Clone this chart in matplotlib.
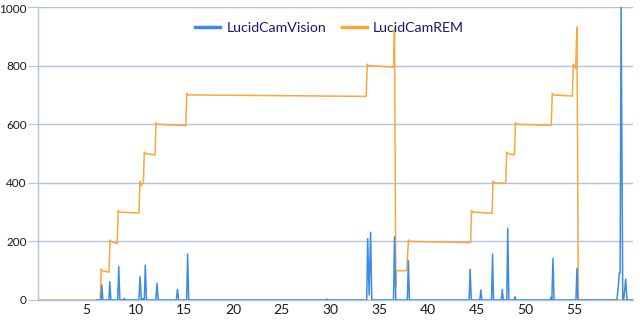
import matplotlib
matplotlib.use("Agg")
import matplotlib.pyplot as plt
import matplotlib.transforms as mtransforms

plt.rcParams['font.family'] = ['Lato', 'DejaVu Sans']

# LucidCamVision series (time, value)
vision_x = [6.0, 6.45, 6.54, 6.65, 7.26, 7.36, 7.47, 8.17, 8.28, 8.39, 8.75, 8.83, 8.92,
            10.35, 10.46, 10.6, 10.72, 10.9, 11.0, 11.12, 12.08, 12.2, 12.32, 14.18, 14.3,
            14.42, 15.24, 15.34, 15.45, 29.5, 29.6, 29.7, 33.7, 33.8, 33.95, 34.1, 34.22,
            36.45, 36.55, 36.68, 37.87, 37.97, 38.08, 44.2, 44.3, 44.42, 45.3, 45.4, 45.5,
            46.5, 46.6, 46.7, 47.5, 47.6, 47.7, 48.06, 48.16, 48.27, 48.8, 48.9, 49.0,
            52.5, 52.6, 52.68, 52.8, 52.9, 55.15, 55.25, 55.35, 59.35, 59.5, 59.6, 59.68,
            59.78, 59.95, 60.05, 60.25, 60.38, 61.0]
vision_y = [0, 0, 51, 0, 0, 62, 0, 0, 114, 0, 0, 5, 0,
            0, 80, 0, 5, 0, 119, 0, 0, 57, 0, 0, 36,
            0, 0, 157, 0, 0, 3, 0, 0, 210, 17, 231, 0,
            0, 215, 0, 0, 134, 0, 0, 105, 0, 0, 34, 0,
            0, 157, 0, 0, 36, 0, 0, 245, 0, 0, 11, 0,
            0, 9, 0, 142, 0, 0, 108, 0, 0, 50, 92, 92,
            1000, 0, 0, 71, 0, 0]

# LucidCamREM series (time, value)
rem_x = [0.0, 6.38, 6.48, 6.6, 7.28, 7.38, 7.48, 8.12, 8.22, 8.32, 10.35, 10.45, 10.55,
         10.8, 10.9, 11.0, 12.0, 12.1, 12.2, 15.15, 15.25, 15.35, 33.65, 33.75, 33.85,
         36.45, 36.55, 36.68, 36.75, 37.8, 37.98, 38.1, 44.35, 44.45, 44.55, 46.55, 46.65,
         46.75, 47.95, 48.05, 48.15, 48.85, 48.95, 49.05, 52.62, 52.72, 52.82, 54.78, 54.88,
         54.98, 55.12, 55.25, 55.4, 61.0]
rem_y = [0, 0, 105, 100, 95, 205, 200, 192, 305, 300, 297, 405, 390,
         400, 505, 500, 495, 605, 600, 595, 705, 700, 695, 805, 800,
         795, 930, 45, 100, 100, 205, 200, 196, 305, 300, 296, 405,
         400, 398, 505, 500, 495, 605, 600, 596, 705, 700, 696, 805,
         800, 790, 932, 0, 0]

x_ticks = [5, 10, 15, 20, 25, 30, 35, 40, 45, 50, 55]
y_ticks = [0, 200, 400, 600, 800, 1000]

blue = '#3d8be8'
orange = '#f9a83a'
grid_c = '#b0c4de'

fig = plt.figure(figsize=(6.4, 3.2), dpi=100)
ax = fig.add_axes([38/640, 1 - 300/320, 595/640, 293/320])

ax.plot(vision_x, vision_y, color=blue, lw=1.1, label='LucidCamVision', zorder=3)
ax.plot(rem_x, rem_y, color=orange, lw=1.1, label='LucidCamREM', zorder=2)

ax.set_xlim(0, 61)
ax.set_ylim(0, 1000)
ax.set_xticks(x_ticks)
ax.set_yticks(y_ticks)
ax.yaxis.grid(True, color=grid_c, lw=1)
ax.set_axisbelow(True)
for s in ['top', 'right']:
    ax.spines[s].set_visible(False)
for s in ['left', 'bottom']:
    ax.spines[s].set_color(grid_c)
    ax.spines[s].set_linewidth(1)
ax.tick_params(axis='y', length=7, color=grid_c, labelsize=8.5, labelcolor='#1a1a1a', pad=1)
ax.tick_params(axis='x', length=0, labelsize=10, labelcolor='#1a1a1a', pad=3)

# nudge the topmost y label slightly down so it stays inside the canvas
fig.canvas.draw()
top_lbl = ax.get_yticklabels()[-1]
top_lbl.set_transform(top_lbl.get_transform() +
                      mtransforms.ScaledTranslation(0, -1.5/100, fig.dpi_scale_trans))

leg = ax.legend(loc='center', bbox_to_anchor=(0.49, 0.93), ncol=2, frameon=False,
                fontsize=10.2, handlelength=1.75, columnspacing=1.1, handletextpad=0.45)
for t in leg.get_texts():
    t.set_color('#1c1670')
for h in leg.get_lines():
    h.set_linewidth(2.5)

fig.savefig('out.png', dpi=100)
